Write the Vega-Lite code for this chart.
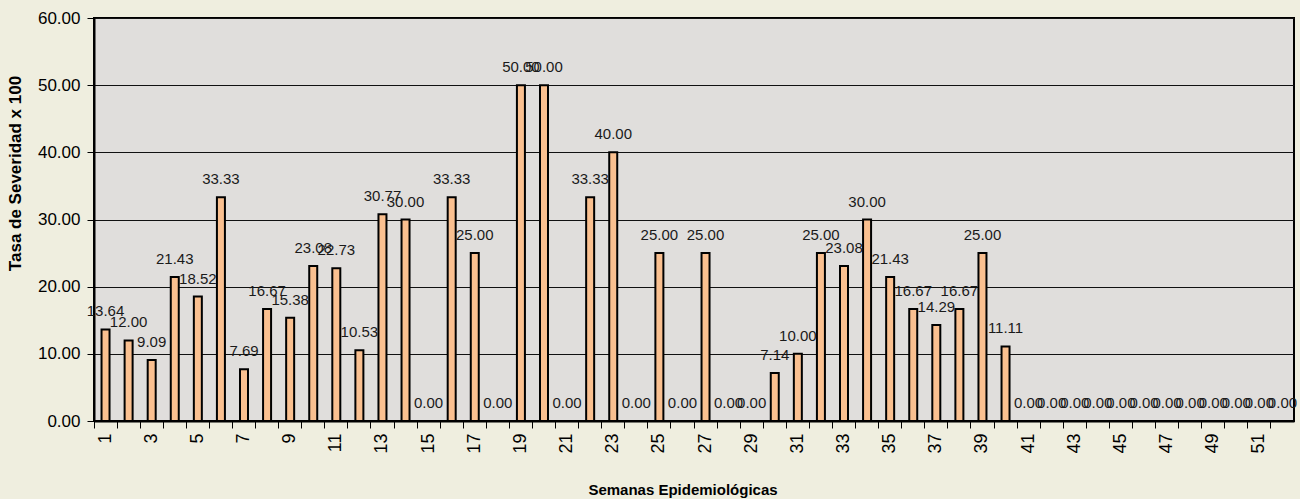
{
  "$schema": "https://vega.github.io/schema/vega-lite/v6.json",
  "autosize": {"type": "none"},
  "width": 1200,
  "height": 403,
  "padding": {"left": 94, "top": 18, "right": 6, "bottom": 78},
  "background": "#EFEEDF",
  "config": {
    "font": "Liberation Sans",
    "view": {"fill": "#E0DEDC", "stroke": "#000000", "strokeWidth": 2}
  },
  "data": {
    "values": [
      {"semana": 1, "tasa": 13.64}, {"semana": 2, "tasa": 12.00}, {"semana": 3, "tasa": 9.09},
      {"semana": 4, "tasa": 21.43}, {"semana": 5, "tasa": 18.52}, {"semana": 6, "tasa": 33.33},
      {"semana": 7, "tasa": 7.69}, {"semana": 8, "tasa": 16.67}, {"semana": 9, "tasa": 15.38},
      {"semana": 10, "tasa": 23.08}, {"semana": 11, "tasa": 22.73}, {"semana": 12, "tasa": 10.53},
      {"semana": 13, "tasa": 30.77}, {"semana": 14, "tasa": 30.00}, {"semana": 15, "tasa": 0.00},
      {"semana": 16, "tasa": 33.33}, {"semana": 17, "tasa": 25.00}, {"semana": 18, "tasa": 0.00},
      {"semana": 19, "tasa": 50.00}, {"semana": 20, "tasa": 50.00}, {"semana": 21, "tasa": 0.00},
      {"semana": 22, "tasa": 33.33}, {"semana": 23, "tasa": 40.00}, {"semana": 24, "tasa": 0.00},
      {"semana": 25, "tasa": 25.00}, {"semana": 26, "tasa": 0.00}, {"semana": 27, "tasa": 25.00},
      {"semana": 28, "tasa": 0.00}, {"semana": 29, "tasa": 0.00}, {"semana": 30, "tasa": 7.14},
      {"semana": 31, "tasa": 10.00}, {"semana": 32, "tasa": 25.00}, {"semana": 33, "tasa": 23.08},
      {"semana": 34, "tasa": 30.00}, {"semana": 35, "tasa": 21.43}, {"semana": 36, "tasa": 16.67},
      {"semana": 37, "tasa": 14.29}, {"semana": 38, "tasa": 16.67}, {"semana": 39, "tasa": 25.00},
      {"semana": 40, "tasa": 11.11}, {"semana": 41, "tasa": 0.00}, {"semana": 42, "tasa": 0.00},
      {"semana": 43, "tasa": 0.00}, {"semana": 44, "tasa": 0.00}, {"semana": 45, "tasa": 0.00},
      {"semana": 46, "tasa": 0.00}, {"semana": 47, "tasa": 0.00}, {"semana": 48, "tasa": 0.00},
      {"semana": 49, "tasa": 0.00}, {"semana": 50, "tasa": 0.00}, {"semana": 51, "tasa": 0.00},
      {"semana": 52, "tasa": 0.00}
    ]
  },
  "encoding": {
    "x": {
      "field": "semana",
      "type": "ordinal",
      "scale": {"paddingInner": 0, "paddingOuter": 0},
      "axis": {
        "title": "Semanas Epidemiológicas",
        "titleFontSize": 15,
        "titleFontWeight": "bold",
        "titleColor": "#000000",
        "titleX": 588.5,
        "titleY": 73,
        "titleAlign": "center",
        "titleBaseline": "alphabetic",
        "labelAngle": -90,
        "labelFontSize": 18,
        "labelColor": "#000000",
        "labelExpr": "datum.value % 2 == 1 ? datum.label : ''",
        "labelPadding": 5,
        "bandPosition": 0,
        "tickSize": 7,
        "tickColor": "#000000",
        "domainColor": "#000000",
        "domainWidth": 2,
        "grid": false
      }
    },
    "y": {
      "field": "tasa",
      "type": "quantitative",
      "scale": {"domain": [0, 60], "nice": false},
      "axis": {
        "title": "Tasa de Severidad x 100",
        "titleFontSize": 17,
        "titleFontWeight": "bold",
        "titleColor": "#000000",
        "titleX": -79,
        "titleY": 155,
        "titleAngle": -90,
        "titleAlign": "center",
        "titleBaseline": "middle",
        "values": [0, 10, 20, 30, 40, 50, 60],
        "format": ".2f",
        "labelFontSize": 17,
        "labelColor": "#000000",
        "labelPadding": 7,
        "tickSize": 7,
        "tickColor": "#000000",
        "domainColor": "#000000",
        "domainWidth": 2,
        "grid": true,
        "gridColor": "#111111",
        "gridWidth": 1
      }
    }
  },
  "layer": [
    {
      "mark": {"type": "bar", "size": 8, "fill": "#FAC090", "stroke": "#000000", "strokeWidth": 2}
    },
    {
      "mark": {"type": "text", "fontSize": 15, "baseline": "alphabetic", "dy": -13, "color": "#1a1a1a"},
      "encoding": {
        "text": {"field": "tasa", "type": "quantitative", "format": ".2f"}
      }
    }
  ]
}
